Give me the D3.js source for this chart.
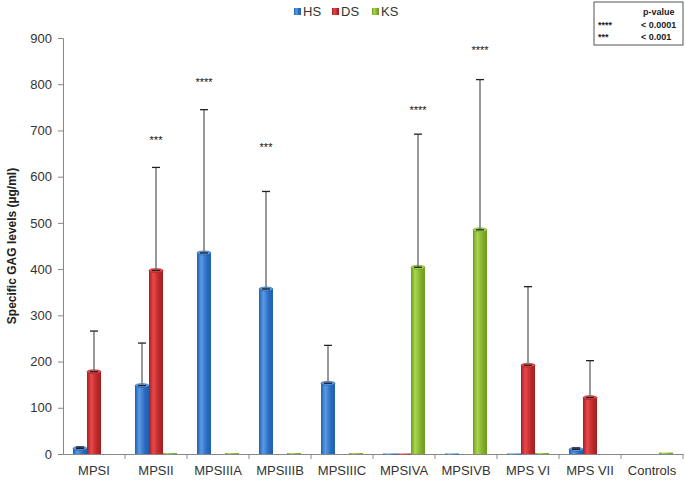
<!DOCTYPE html>
<html>
<head>
<meta charset="utf-8">
<script src="https://cdn.jsdelivr.net/npm/d3@7"></script>
<style>
  body { margin: 0; background: #fff; }
  text { font-family: "Liberation Sans", Arial, sans-serif; }
</style>
</head>
<body>
<svg id="chart" width="685" height="487"></svg>
<script>
// categories and series
var categories = ["MPSI", "MPSII", "MPSIIIA", "MPSIIIB", "MPSIIIC", "MPSIVA", "MPSIVB", "MPS VI", "MPS VII", "Controls"];
var seriesNames = ["HS", "DS", "KS"];
var seriesColors = { HS: ["#1f5fae", "#5b9ae4", "#2a6bbf"], DS: ["#a51d1f", "#e9494a", "#b9292b"], KS: ["#6e9a1e", "#a9d84c", "#80ad2c"] };

// means (null = no bar)
var hsValues = [12, 148, 435, 357, 153, 1, 1, 1, 10, null];
var dsValues = [178, 397, null, null, null, 1, null, 192, 122, null];
var ksValues = [null, 2, 2, 2, 2, 404, 485, 2, null, 3];
// upper error (mean + sd)
var hsErr = [15, 240, 745, 568, 235, null, null, null, 13, null];
var dsErr = [266, 620, null, null, null, null, null, 362, 202, null];
var ksErr = [null, null, null, null, null, 692, 810, null, null, null];

// significance labels
var sigLabels = [
  { cat: "MPSII", series: "DS", label: "***", y: 680 },
  { cat: "MPSIIIA", series: "HS", label: "****", y: 805 },
  { cat: "MPSIIIB", series: "HS", label: "***", y: 665 },
  { cat: "MPSIVA", series: "KS", label: "****", y: 745 },
  { cat: "MPSIVB", series: "KS", label: "****", y: 875 }
];
var yTicks = [0, 100, 200, 300, 400, 500, 600, 700, 800, 900];

var svg = d3.select("#chart");
var margin = { left: 63, right: 2, top: 38, bottom: 33 };
var width = 685 - margin.left - margin.right;
var height = 487 - margin.top - margin.bottom;

var defs = svg.append("defs");
seriesNames.forEach(function(s) {
  var g = defs.append("linearGradient").attr("id", "grad_" + s)
    .attr("x1", "0%").attr("x2", "100%").attr("y1", "0%").attr("y2", "0%");
  g.append("stop").attr("offset", "0%").attr("stop-color", seriesColors[s][0]);
  g.append("stop").attr("offset", "30%").attr("stop-color", seriesColors[s][1]);
  g.append("stop").attr("offset", "70%").attr("stop-color", seriesColors[s][2]);
  g.append("stop").attr("offset", "100%").attr("stop-color", seriesColors[s][0]);
});

var chart = svg.append("g").attr("transform", "translate(" + margin.left + "," + margin.top + ")");

var xScale = d3.scaleBand().domain(categories).range([0, width]).paddingInner(0).paddingOuter(0);
var xInner = d3.scaleBand().domain(seriesNames).range([10, xScale.bandwidth() - 10]);
var yScale = d3.scaleLinear().domain([0, 900]).range([height, 0]);

// y axis
var yAxis = chart.append("g").call(d3.axisLeft(yScale).tickValues(yTicks).tickSize(5).tickPadding(6));
yAxis.select(".domain").attr("stroke", "#888");
yAxis.selectAll(".tick line").attr("stroke", "#888");
yAxis.selectAll("text").attr("font-size", "13px").attr("fill", "#333");

// x axis
var xAxis = chart.append("g").attr("transform", "translate(0," + height + ")")
  .call(d3.axisBottom(xScale).tickSize(0).tickPadding(12));
xAxis.select(".domain").attr("stroke", "#888");
xAxis.selectAll("text").attr("font-size", "13px").attr("fill", "#333");
// ticks at band boundaries
chart.append("g").selectAll("line")
  .data(categories)
  .enter().append("line")
  .attr("x1", function(d) { return xScale(d) + xScale.bandwidth(); })
  .attr("x2", function(d) { return xScale(d) + xScale.bandwidth(); })
  .attr("y1", height).attr("y2", height + 5)
  .attr("stroke", "#888");

// flatten data
var rows = [];
categories.forEach(function(c, i) {
  [[hsValues, hsErr, "HS"], [dsValues, dsErr, "DS"], [ksValues, ksErr, "KS"]].forEach(function(s) {
    if (s[0][i] != null) rows.push({ cat: c, series: s[2], value: s[0][i], err: s[1][i] });
  });
});

var bars = chart.append("g").attr("class", "bars");
bars.selectAll("rect")
  .data(rows)
  .enter().append("rect")
  .attr("x", function(d) { return xScale(d.cat) + xInner(d.series); })
  .attr("y", function(d) { return yScale(d.value); })
  .attr("width", xInner.bandwidth())
  .attr("height", function(d) { return Math.max(height - yScale(d.value), 1); })
  .attr("fill", function(d) { return "url(#grad_" + d.series + ")"; });

// top ellipse of cylinders
bars.selectAll("ellipse")
  .data(rows.filter(function(d) { return d.value > 5; }))
  .enter().append("ellipse")
  .attr("cx", function(d) { return xScale(d.cat) + xInner(d.series) + xInner.bandwidth() / 2; })
  .attr("cy", function(d) { return yScale(d.value); })
  .attr("rx", xInner.bandwidth() / 2)
  .attr("ry", 2)
  .attr("fill", function(d) { return seriesColors[d.series][1]; })
  .attr("stroke", function(d) { return seriesColors[d.series][0]; })
  .attr("stroke-width", 0.6);

// error bars
var errRows = rows.filter(function(d) { return d.err != null; });
var errG = chart.append("g").attr("class", "errors");
errG.selectAll("line.stem")
  .data(errRows)
  .enter().append("line")
  .attr("class", "stem")
  .attr("x1", function(d) { return xScale(d.cat) + xInner(d.series) + xInner.bandwidth() / 2; })
  .attr("x2", function(d) { return xScale(d.cat) + xInner(d.series) + xInner.bandwidth() / 2; })
  .attr("y1", function(d) { return yScale(d.value); })
  .attr("y2", function(d) { return yScale(d.err); })
  .attr("stroke", "#777").attr("stroke-width", 1.5);
["err", "value"].forEach(function(k) {
  errG.selectAll("line.cap_" + k)
    .data(errRows)
    .enter().append("line")
    .attr("class", "cap_" + k)
    .attr("x1", function(d) { return xScale(d.cat) + xInner(d.series) + xInner.bandwidth() / 2 - 4; })
    .attr("x2", function(d) { return xScale(d.cat) + xInner(d.series) + xInner.bandwidth() / 2 + 4; })
    .attr("y1", function(d) { return yScale(d[k]); })
    .attr("y2", function(d) { return yScale(d[k]); })
    .attr("stroke", "#222").attr("stroke-width", 1.3);
});

// significance stars
chart.append("g").selectAll("text")
  .data(sigLabels)
  .enter().append("text")
  .attr("x", function(d) { return xScale(d.cat) + xInner(d.series) + xInner.bandwidth() / 2; })
  .attr("y", function(d) { return yScale(d.y) + 4; })
  .attr("text-anchor", "middle")
  .attr("font-size", "11px")
  .attr("fill", "#111")
  .text(function(d) { return d.label; });

// y label
svg.append("text")
  .attr("transform", "translate(16," + (margin.top + height / 2) + ") rotate(-90)")
  .attr("text-anchor", "middle")
  .attr("font-size", "12px")
  .attr("font-weight", "bold")
  .attr("fill", "#222")
  .text("Specific GAG levels (µg/ml)");

// legend
var legend = svg.append("g").attr("transform", "translate(294,5)");
var legendX = [0, 38, 78];
seriesNames.forEach(function(s, i) {
  legend.append("rect").attr("x", legendX[i]).attr("y", 3).attr("width", 7).attr("height", 7)
    .attr("fill", "url(#grad_" + s + ")");
  legend.append("text").attr("x", legendX[i] + 9).attr("y", 11).attr("font-size", "13px").attr("fill", "#333").text(s);
});

// p-value box
var pbox = svg.append("g").attr("transform", "translate(594,2)");
pbox.append("rect").attr("x", 0).attr("y", 0).attr("width", 89).attr("height", 43)
  .attr("fill", "#fff").attr("stroke", "#555").attr("stroke-width", 1);
pbox.append("text").attr("x", 49).attr("y", 13).attr("font-size", "9px").attr("font-weight", "bold").attr("fill", "#222").text("p-value");
var pRows = [["****", "< 0.0001"], ["***", "< 0.001"]];
pRows.forEach(function(r, i) {
  pbox.append("text").attr("x", 4).attr("y", 26 + i * 12).attr("font-size", "9px").attr("font-weight", "bold").attr("fill", "#222").text(r[0]);
  pbox.append("text").attr("x", 47).attr("y", 26 + i * 12).attr("font-size", "9px").attr("font-weight", "bold").attr("fill", "#222").text(r[1]);
});
</script>
</body>
</html>
